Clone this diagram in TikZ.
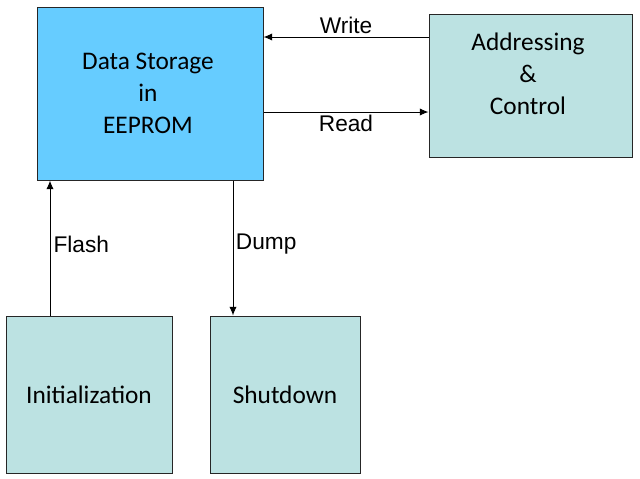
\documentclass[tikz,border=0pt]{standalone}
\usepackage{fontspec}
\setmainfont{Liberation Sans}
\newfontfamily\boxfont{Carlito}
\usetikzlibrary{arrows.meta}
\definecolor{storeblue}{HTML}{66CCFF}
\definecolor{ctrlteal}{HTML}{BCE2E2}
\begin{document}
\begin{tikzpicture}[x=0.75pt,y=-0.75pt,
    box/.style={draw=black!85,line width=0.75pt,inner sep=0pt},
    boxtext/.style={font=\boxfont\fontsize{19}{24}\selectfont,align=center},
    lbl/.style={font=\fontsize{17}{20}\selectfont},
    arr/.style={line width=0.75pt,-{Latex[length=6.5pt,width=5.5pt]}}]
            \useasboundingbox (0,0) rectangle (640,479);
            \node[box,fill=storeblue,minimum width=226*0.75pt,minimum height=173*0.75pt] (store) at (150,93.5) {};
            \node[box,fill=ctrlteal,minimum width=203*0.75pt,minimum height=143*0.75pt] (ctrl) at (530.5,85.5) {};
            \node[box,fill=ctrlteal,minimum width=166*0.75pt,minimum height=157*0.75pt] (init) at (89,394.5) {};
            \node[box,fill=ctrlteal,minimum width=150*0.75pt,minimum height=157*0.75pt] (shut) at (285,394.5) {};

            \node[boxtext] (storetext) at (148,93) {Data Storage\\in\\EEPROM};
            \node[boxtext] (ctrltext) at (528,74) {Addressing\\\&\\Control};
            \node[boxtext] (inittext) at (89,395) {Initialization};
            \node[boxtext] (shuttext) at (285,395) {Shutdown};

            \coordinate (wr) at (0,37);
            \coordinate (rd) at (0,112);
            \coordinate (fl) at (50,0);
            \coordinate (dp) at (233,0);

            \draw[arr] (ctrl.west |- wr) -- node[lbl,above=-1.5pt] {Write} (store.east |- wr);
            \draw[arr] (store.east |- rd) -- node[lbl,below=-1.5pt] {Read} (ctrl.west |- rd);
            \draw[arr] (init.north -| fl) -- node[lbl,right=-1pt,yshift=3pt] {Flash} (store.south -| fl);
            \draw[arr] (store.south -| dp) -- node[lbl,right=-1.5pt,yshift=3pt] {Dump} (shut.north -| dp);
        \end{tikzpicture}
\end{document}
